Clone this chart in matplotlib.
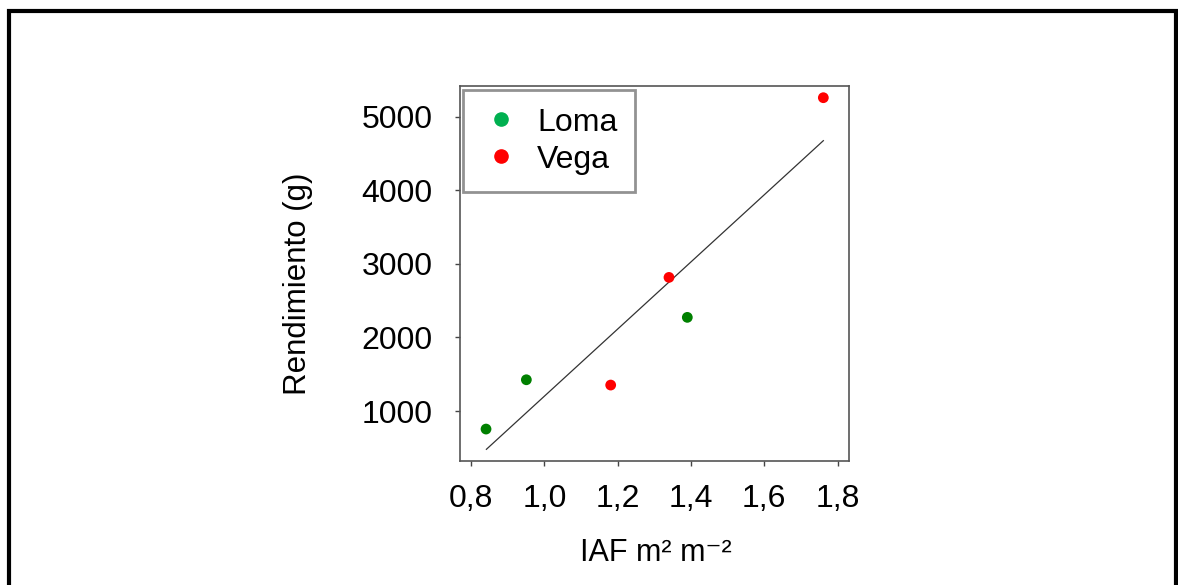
import matplotlib
matplotlib.use("Agg")
import matplotlib.pyplot as plt
from matplotlib.patches import Rectangle
from matplotlib.lines import Line2D

plt.rcParams['font.family'] = ['Liberation Sans', 'DejaVu Sans']

loma_iaf = [0.841, 0.951, 1.390]
loma_rend = [755, 1425, 2273]
vega_iaf = [1.181, 1.340, 1.761]
vega_rend = [1353, 2816, 5258]
fit_x = [0.842, 1.761]
fit_y = [480, 4674]
xticks = [0.8, 1.0, 1.2, 1.4, 1.6, 1.8]
xticklabels = ["0,8", "1,0", "1,2", "1,4", "1,6", "1,8"]
yticks = [1000, 2000, 3000, 4000, 5000]

W, H = 1178, 585
fig = plt.figure(figsize=(W / 100, H / 100), dpi=100)
L, R, T, B = 460, 849, 86, 461
ax = fig.add_axes([L / W, 1 - B / H, (R - L) / W, (B - T) / H])

ax.plot(fit_x, fit_y, color='#333333', lw=0.9, zorder=2)
ax.scatter(loma_iaf, loma_rend, s=60, color='#008000', edgecolors='none', zorder=3)
ax.scatter(vega_iaf, vega_rend, s=60, color='#ff0000', edgecolors='none', zorder=3)

ax.set_xlim(0.77, 1.831)
ax.set_ylim(321, 5417)
ax.set_xticks(xticks)
ax.set_xticklabels(xticklabels)
ax.set_yticks(yticks)
ax.set_yticklabels([str(v) for v in yticks])
ax.tick_params(axis='both', labelsize=23, length=3.3, width=1, color='#444444', direction='out')
ax.tick_params(axis='x', pad=13.5)
ax.tick_params(axis='y', pad=16.5)
for sp in ax.spines.values():
    sp.set_color('#555555')
    sp.set_linewidth(1.2)

ax.set_xlabel("IAF m² m⁻²", fontsize=22)
ax.xaxis.set_label_coords((656 - L) / (R - L), (B - 538) / (B - T))
ax.set_ylabel("Rendimiento (g)", fontsize=22.5)
ax.yaxis.set_label_coords((313 - L) / (R - L), (B - 284) / (B - T))

handles = [
    Line2D([], [], marker='o', ls='none', color='#00b050', markersize=9.5),
    Line2D([], [], marker='o', ls='none', color='#ff0000', markersize=9.5),
]
leg = ax.legend(handles, ["Loma", "Vega"], loc='upper left', fontsize=23,
                bbox_to_anchor=((463 - L) / (R - L), (B - 90) / (B - T)),
                frameon=True, fancybox=False, borderaxespad=0,
                handletextpad=0.49, borderpad=0.55, labelspacing=0.22,
                handlelength=1.28)
leg.get_frame().set_edgecolor('#777777')
leg.get_frame().set_linewidth(2)

rect = Rectangle((8.5 / W, -0.1), (1176 - 8.5) / W, 1.1 - 11 / H,
                 transform=fig.transFigure, fill=False, edgecolor='black',
                 linewidth=3, clip_on=False)
fig.patches.append(rect)

fig.savefig("out.png", dpi=100)
